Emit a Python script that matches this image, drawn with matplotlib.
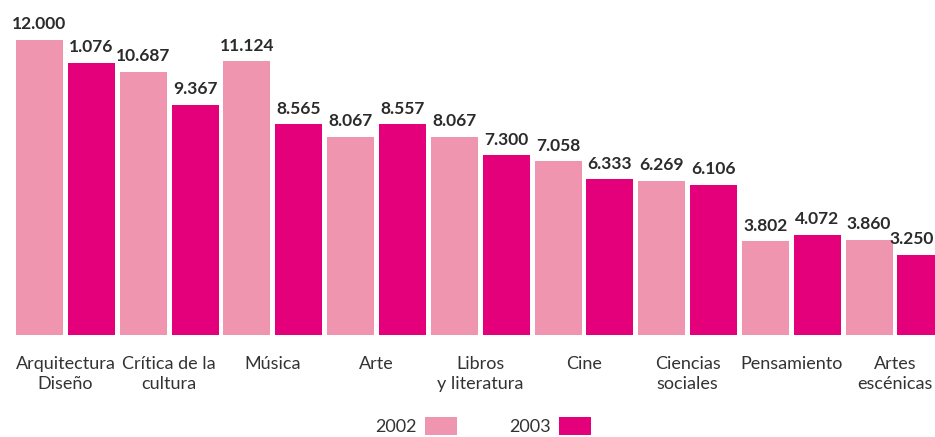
import matplotlib
matplotlib.use("Agg")
import matplotlib.pyplot as plt
import numpy as np

plt.rcParams['font.family'] = ['Lato', 'DejaVu Sans']

categories = ["Arquitectura\nDiseño", "Crítica de la\ncultura", "Música", "Arte",
              "Libros\ny literatura", "Cine", "Ciencias\nsociales", "Pensamiento",
              "Artes\nescénicas"]
series_names = ["2002", "2003"]
values_2002 = [12.000, 10.687, 11.124, 8.067, 8.067, 7.058, 6.269, 3.802, 3.860]
values_2003 = [11.076, 9.367, 8.565, 8.557, 7.300, 6.333, 6.106, 4.072, 3.250]
labels_2002 = ["12.000", "10.687", "11.124", "8.067", "8.067", "7.058", "6.269", "3.802", "3.860"]
labels_2003 = ["1.076", "9.367", "8.565", "8.557", "7.300", "6.333", "6.106", "4.072", "3.250"]

c2002 = "#F095B0"
c2003 = "#E4007A"

W, H = 935, 437
fig = plt.figure(figsize=(W / 100, H / 100), dpi=100)
left = 13.6 / W
width = 933.3 / W
bottom = (H - 335) / H
height = 335 / H
ax = fig.add_axes([left, bottom, width, height])

x = np.arange(len(categories))
bw = 47 / 103.7
off = 0.25
b1 = ax.bar(x - off, values_2002, bw, color=c2002, label=series_names[0])
b2 = ax.bar(x + off, values_2003, bw, color=c2003, label=series_names[1])

n = len(categories)
for rect, lab in zip(b1, labels_2002):
    ax.annotate(lab, (rect.get_x() + rect.get_width() / 2, rect.get_height()),
                xytext=(0, 5.5), textcoords="offset points", ha="center", va="bottom",
                fontsize=12.5, fontweight="bold", color="#2b2b2b")
for i, (rect, lab) in enumerate(zip(b2, labels_2003)):
    dx = -6.5 if i == n - 1 else 0
    ax.annotate(lab, (rect.get_x() + rect.get_width() / 2, rect.get_height()),
                xytext=(dx, 5.5), textcoords="offset points", ha="center", va="bottom",
                fontsize=12.5, fontweight="bold", color="#2b2b2b")

ax.set_xlim(-0.5, n - 0.5)
ax.set_ylim(0, 335 / 24.6)
ax.set_xticks(x)
ax.set_xticklabels(categories, fontsize=13, color="#333333", linespacing=1.35)
ax.tick_params(axis="x", length=0, pad=15)
ax.set_yticks([])
for s in ax.spines.values():
    s.set_visible(False)

leg = fig.legend(handles=[b1, b2], labels=series_names, loc="center",
                 bbox_to_anchor=(483 / W, (H - 426) / H), ncol=2, frameon=False,
                 markerfirst=False, handlelength=1.78, handleheight=1.22,
                 handletextpad=0.45, columnspacing=2.9, fontsize=13,
                 labelcolor="#333333")

fig.savefig("out.png", dpi=100)
